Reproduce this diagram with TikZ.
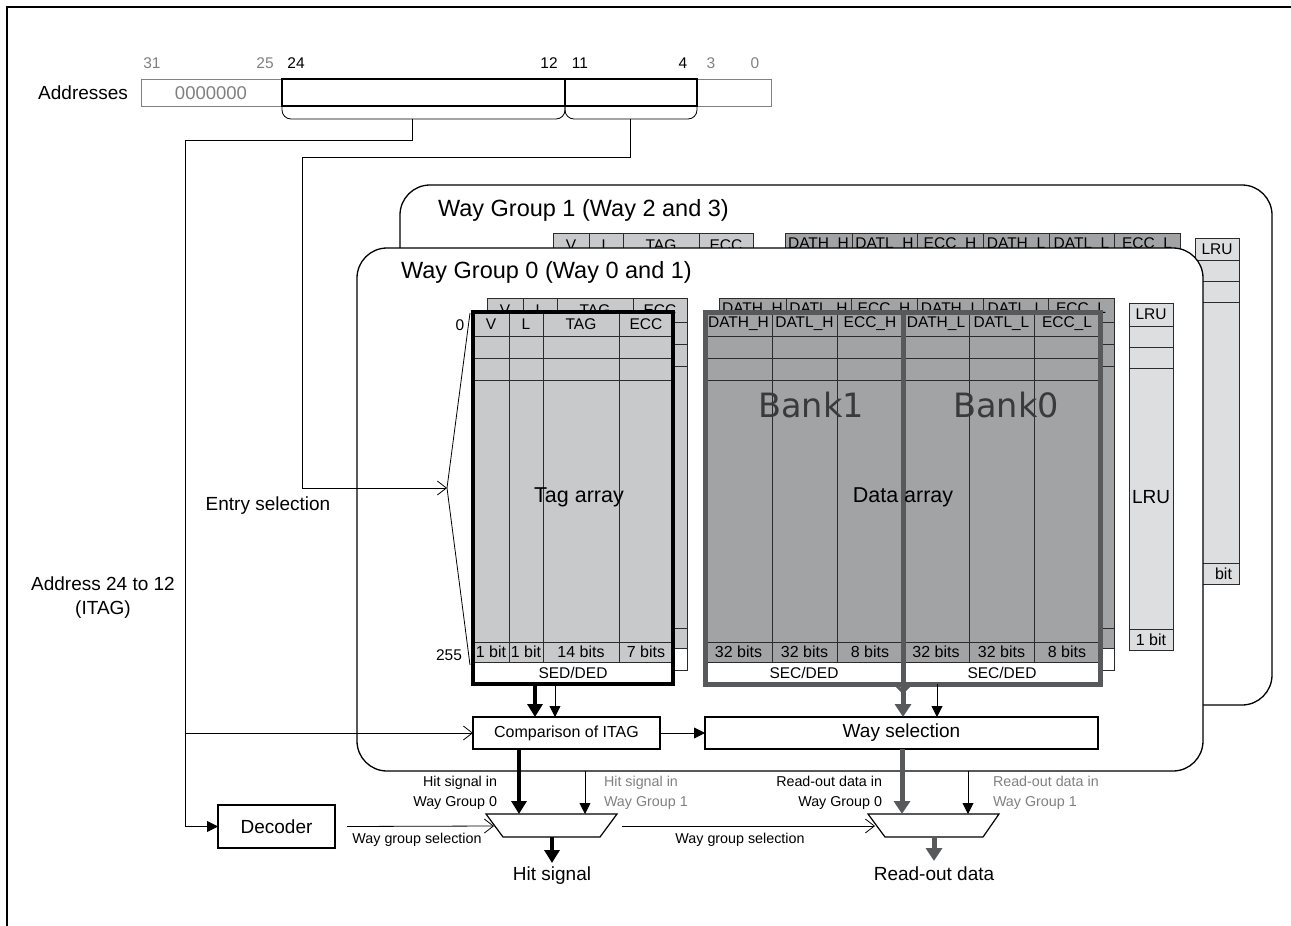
\documentclass[tikz,border=0pt]{standalone}
\usepackage{fontspec}
\setmainfont{Liberation Sans}
\newfontfamily\bankfont{DejaVu Sans}
\usetikzlibrary{arrows.meta}

\definecolor{tagfill}{HTML}{C8C9CB}
\definecolor{datfill}{HTML}{A2A3A5}
\definecolor{lrufill}{HTML}{DDDEE0}
\definecolor{datframe}{HTML}{58595B}
\definecolor{txtgray}{HTML}{808080}
\definecolor{gridc}{HTML}{2B2B2B}
\definecolor{bankc}{HTML}{3A3A3A}

\newcommand{\myfs}[1]{\fontsize{#1}{#1}\selectfont}
\newif\ifbottxt
\bottxttrue

\newcommand{\tagarr}[3]{%
 \begin{scope}[shift={(#1,#2)}]
  \fill[tagfill] (0,0) rectangle (200,350);
  \fill[white] (0,350) rectangle (200,372);
  \draw[grid] (0,24) -- (200,24) (0,46) -- (200,46) (0,68) -- (200,68)
   (0,330) -- (200,330) (0,350) -- (200,350)
   (36,0) -- (36,350) (70,0) -- (70,350) (146,0) -- (146,350);
  \draw[grid] (0,0) rectangle (200,372);
  \node[cell] (#3h1) at (18,12) {V};
  \node[cell] (#3h2) at (53,12) {L};
  \node[cell] (#3h3) at (108,12) {TAG};
  \node[cell] (#3h4) at (173,12) {ECC};
  \ifbottxt
  \node[bits] (#3b1) at (18,340) {1 bit};
  \node[bits] (#3b2) at (53,340) {1 bit};
  \node[bits] (#3b3) at (108,340) {14 bits};
  \node[bits] (#3b4) at (173,340) {7 bits};
  \node[cell] (#3e) at (100,361) {SED/DED};
  \fi
 \end{scope}}

\newcommand{\datarr}[3]{%
 \begin{scope}[shift={(#1,#2)}]
  \fill[datfill] (0,0) rectangle (395,350);
  \fill[white] (0,350) rectangle (395,372);
  \draw[grid] (0,24) -- (395,24) (0,46) -- (395,46) (0,68) -- (395,68)
   (0,330) -- (395,330) (0,350) -- (395,350)
   (67,0) -- (67,350) (132,0) -- (132,350) (198,0) -- (198,372)
   (264,0) -- (264,350) (329,0) -- (329,350);
  \draw[grid] (0,0) rectangle (395,372);
  \node[cell] (#3h1) at (33.5,12) {DATH\_H};
  \node[cell] (#3h2) at (99.5,12) {DATL\_H};
  \node[cell] (#3h3) at (165,12) {ECC\_H};
  \node[cell] (#3h4) at (231,12) {DATH\_L};
  \node[cell] (#3h5) at (296.5,12) {DATL\_L};
  \node[cell] (#3h6) at (362,12) {ECC\_L};
  \ifbottxt
  \node[bits] (#3b1) at (33.5,340) {32 bits};
  \node[bits] (#3b2) at (99.5,340) {32 bits};
  \node[bits] (#3b3) at (165,340) {8 bits};
  \node[bits] (#3b4) at (231,340) {32 bits};
  \node[bits] (#3b5) at (296.5,340) {32 bits};
  \node[bits] (#3b6) at (362,340) {8 bits};
  \node[cell] (#3e1) at (99,361) {SEC/DED};
  \node[cell] (#3e2) at (297,361) {SEC/DED};
  \fi
 \end{scope}}

\begin{document}
\begin{tikzpicture}[x=1pt,y=-1pt,
  every node/.style={inner sep=0pt,outer sep=0pt,font=\myfs{19}},
  cell/.style={font=\myfs{15.5}},
  bits/.style={font=\myfs{16}},
  grid/.style={draw=gridc,line width=0.8pt},
  box/.style={draw,line width=1.2pt,fill=white},
  gbox/.style={draw,line width=1.3pt,fill=white,rounded corners=30pt},
  wline/.style={line width=0.8pt},
  tarr/.style={line width=0.9pt,-{Triangle[length=11pt,width=11pt]}},
  karr/.style={line width=4pt,-{Triangle[length=13pt,width=15pt]}},
  garr/.style={draw=datframe,line width=5pt,-{Triangle[length=13pt,width=16pt]}},
  oarr/.style={line width=0.8pt,-{Straight Barb[length=9pt,width=14pt]}},
  bitn/.style={font=\myfs{15.5}},
  small/.style={font=\fontsize{14.3}{20}\selectfont},
]
\useasboundingbox (0,0) rectangle (1291,926);

% outer frame
\draw[line width=2.5pt] (7,926) -- (7,7) -- (1291,7);

% ---------- address ----------
\node[anchor=east] (addr) at (128,93) {Addresses};
\draw[txtgray,line width=0.8pt] (141,79) rectangle (771,106);
\node[text=txtgray,font=\myfs{18.5}] (zeros) at (211,93) {0000000};
\draw[line width=2.5pt] (282,79) rectangle (697,106);
\draw[line width=2.5pt] (565,79) -- (565,106);
\node[bitn,text=txtgray] (n31) at (152,63) {31};
\node[bitn,text=txtgray] (n25) at (265,63) {25};
\node[bitn] (n24) at (296,63) {24};
\node[bitn] (n12) at (549,63) {12};
\node[bitn] (n11) at (580,63) {11};
\node[bitn] (n4) at (683,63) {4};
\node[bitn,text=txtgray] (n3) at (711,63) {3};
\node[bitn,text=txtgray] (n0) at (755,63) {0};
\draw[wline,rounded corners=9pt] (282,106) -- (282,119) -- (565,119) -- (565,106);
\draw[wline,rounded corners=9pt] (565,106) -- (565,119) -- (697,119) -- (697,106);
\coordinate (b1) at (412,119);
\coordinate (b2) at (630,119);

% ---------- way group 1 ----------
\draw[gbox] (400,185) rectangle (1272,705);
\node[anchor=west,font=\myfs{23.5}] (g1lab) at (438,210) {Way Group 1 (Way 2 and 3)};
\bottxtfalse
\tagarr{553}{233}{ga}
\datarr{785}{233}{gb}
\fill[lrufill] (1195,238) rectangle (1239,584);
\draw[grid] (1195,238) rectangle (1239,584);
\draw[grid] (1195,260) -- (1239,260) (1195,281) -- (1239,281) (1195,302) -- (1239,302) (1195,563) -- (1239,563);
\node[cell] (lru1h) at (1217,249) {LRU};
\node[bits] (lru1b) at (1223.5,573.5) {bit};

% ---------- way group 0 ----------
\draw[gbox] (357,248) rectangle (1203,771);
\node[anchor=west,font=\myfs{23.5}] (g0lab) at (401,272) {Way Group 0 (Way 0 and 1)};

% behind copies (way 1)
\tagarr{487}{298}{tb}
\datarr{719}{298}{db}
% front copies (way 0)
\bottxttrue
\tagarr{473}{312}{tf}
\draw[line width=3.5pt] (473,312) rectangle (673,684);
\datarr{705}{312}{df}
\draw[datframe,line width=5pt] (705,312) rectangle (1100,684);
\draw[datframe,line width=5pt] (903,312) -- (903,684);

\node[font=\myfs{21.5}] (tagl) at (579,497) {Tag array};
\node[font=\myfs{21.5}] (datl) at (903,497) {Data array};
\node[font={\bankfont\myfs{33.5}},text=bankc] (bank1) at (811,405) {Bank1};
\node[font={\bankfont\myfs{33.5}},text=bankc] (bank0) at (1006,405) {Bank0};

% LRU way group 0
\fill[lrufill] (1129,303) rectangle (1173,650);
\draw[grid] (1129,303) rectangle (1173,650);
\draw[grid] (1129,326) -- (1173,326) (1129,347) -- (1173,347) (1129,368) -- (1173,368) (1129,629) -- (1173,629);
\node[cell] (lru0h) at (1151,314.5) {LRU};
\node (lru0m) at (1151,497) {LRU};
\node[bits] (lru0b) at (1151,639.5) {1 bit};

% entry labels
\node[cell] (e0) at (460,325) {0};
\node[cell] (e255) at (449,655) {255};

% comparison and way selection
\node[box,minimum width=187pt,minimum height=32pt,font=\myfs{16}] (cmp) at (566.5,733) {Comparison of ITAG};
\node[box,minimum width=393pt,minimum height=32pt] (ws) at (901.5,733) {Way selection};

\draw[karr] (535,686) -- (535,0 |- cmp.north);
\draw[tarr] (555,684) -- (555,0 |- cmp.north);
\draw[datframe,line width=3pt] (895,684) -- (903,692) -- (911,684);
\draw[garr] (903,686) -- (903,0 |- ws.north);
\draw[tarr] (937,684) -- (937,0 |- ws.north);
\draw[tarr] (cmp.east) -- (ws.west);

% ---------- lower part ----------
\node[box,minimum width=117pt,minimum height=43pt] (dec) at (276.5,826.5) {Decoder};

\coordinate (m1a) at (486,814); \coordinate (m1b) at (617,814);
\coordinate (m1c) at (600,837); \coordinate (m1d) at (503,837);
\draw[line width=1.2pt] (m1a) -- (m1b) -- (m1c) -- (m1d) -- cycle;
\coordinate (m2a) at (868,814); \coordinate (m2b) at (999,814);
\coordinate (m2c) at (983,837); \coordinate (m2d) at (885,837);
\draw[line width=1.2pt] (m2a) -- (m2b) -- (m2c) -- (m2d) -- cycle;
\coordinate (m1in) at (494,826);
\coordinate (m1out) at (622,826);
\coordinate (m2in) at (875,826);

\draw[karr] (519,0 |- cmp.south) -- (519,814);
\draw[tarr] (585,771) -- (585,814);
\draw[garr] (902,0 |- ws.south) -- (902,814);
\draw[tarr] (968,771) -- (968,814);
\draw[karr] (552,837) -- (552,863);
\draw[garr] (934,837) -- (934,861);

\node[small,anchor=east,align=right] (hs0) at (497,793) {Hit signal in\\Way Group 0};
\node[small,anchor=west,align=left,text=txtgray] (hs1) at (604,793) {Hit signal in\\Way Group 1};
\node[small,anchor=east,align=right] (rd0) at (882,793) {Read-out data in\\Way Group 0};
\node[small,anchor=west,align=left,text=txtgray] (rd1) at (993,793) {Read-out data in\\Way Group 1};

\node (hit) at (552,876) {Hit signal};
\node (rod) at (934,874) {Read-out data};

\draw[oarr] ([xshift=12pt]dec.east) -- (m1in);
\node[small] (wgs1) at (417,840) {Way group selection};
\draw[oarr] (m1out) -- (m2in);
\node[small] (wgs2) at (740,840) {Way group selection};

% address connectors
\draw[tarr] (b1) -- (412,140) -- (185,140) -- (185,0 |- dec.west) -- (dec.west);
\draw[oarr] (185,0 |- cmp.west) -- (cmp.west);
\coordinate (fan) at (447,488);
\draw[oarr] (b2) -- (630,157) -- (302,157) -- (302,488) -- (fan);
\draw[wline] (470,313) -- (fan) -- (470,665);
\node (esel) at (268,506) {Entry selection};
\node[align=center,font=\fontsize{19}{24}\selectfont] (itag) at (103,598) {Address 24 to 12\\(ITAG)};
\end{tikzpicture}
\end{document}
